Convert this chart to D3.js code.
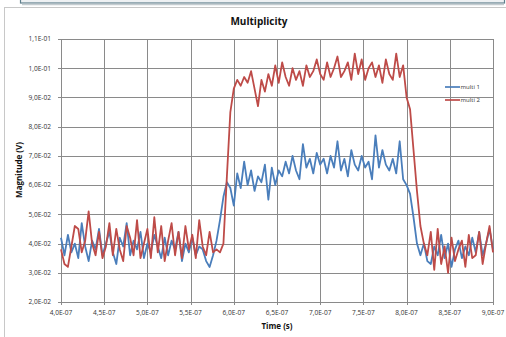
<!DOCTYPE html>
<html>
<head>
<meta charset="UTF-8" />
<script src="https://d3js.org/d3.v7.min.js"></script>
<style>
  body { margin: 0; padding: 0; background: #fff; }
  svg { display: block; font-family: "Open Sans", "Liberation Sans", sans-serif; }
  .tick-label { font-size: 6.6px; fill: #333; }
  .axis-title { font-size: 8px; font-weight: bold; fill: #111; }
</style>
</head>
<body>
<svg width="506" height="337"></svg>
<script>
// time in ns
const timeNs = [400,404,408,412,416,420,424,428,432,436,440,444,448,452,456,460,464,468,472,476,
  480,484,488,492,496,500,504,508,512,516,520,524,528,532,536,540,544,548,552,556,
  560,564,568,572,576,580,584,588,592,596,600,604,608,612,616,620,624,628,632,636,
  640,644,648,652,656,660,664,668,672,676,680,684,688,692,696,700,704,708,712,716,
  720,724,728,732,736,740,744,748,752,756,760,764,768,772,776,780,784,788,792,796,
  800,804,808,812,816,820,824,828,832,836,840,844,848,852,856,860,864,868,872,876,
  880,884,888,892,896,900];

const multi1 = [.042,.036,.043,.037,.040,.035,.047,.039,.034,.041,.038,.045,.036,.040,.044,.037,.033,.042,.039,.047,
  .036,.041,.038,.044,.035,.040,.037,.043,.039,.035,.042,.036,.041,.038,.044,.034,.040,.037,.042,.036,
  .039,.038,.034,.032,.036,.041,.048,.056,.061,.059,.053,.064,.059,.068,.060,.065,.058,.063,.061,.067,
  .055,.066,.060,.065,.063,.068,.064,.070,.065,.062,.074,.066,.069,.064,.071,.067,.069,.064,.070,.066,
  .075,.065,.069,.063,.072,.067,.065,.070,.066,.068,.062,.077,.066,.072,.067,.065,.069,.064,.075,.062,
  .060,.057,.049,.040,.036,.040,.034,.033,.039,.036,.043,.035,.040,.032,.038,.041,.035,.039,.036,.042,
  .037,.044,.036,.040,.045,.038];

const multi2 = [.038,.033,.032,.039,.046,.045,.037,.041,.051,.040,.036,.044,.035,.039,.047,.036,.045,.038,.034,.046,
  .042,.036,.048,.035,.040,.045,.035,.049,.037,.046,.034,.041,.047,.036,.044,.035,.046,.038,.043,.035,
  .048,.039,.036,.044,.037,.038,.037,.040,.063,.085,.093,.096,.094,.097,.095,.099,.093,.087,.096,.092,
  .098,.094,.101,.095,.102,.097,.094,.100,.096,.099,.094,.101,.097,.099,.103,.098,.096,.102,.097,.100,
  .104,.097,.099,.102,.096,.105,.098,.103,.096,.100,.102,.097,.101,.095,.103,.098,.096,.105,.097,.101,
  .090,.086,.072,.058,.046,.040,.036,.044,.031,.045,.033,.039,.030,.042,.034,.038,.041,.032,.043,.035,
  .036,.044,.033,.040,.046,.037];

const yTicks = [0.02,0.03,0.04,0.05,0.06,0.07,0.08,0.09,0.10,0.11];
const yTickLabels = ["2,0E-02","3,0E-02","4,0E-02","5,0E-02","6,0E-02","7,0E-02","8,0E-02","9,0E-02","1,0E-01","1,1E-01"];
const xTicks = [400,450,500,550,600,650,700,750,800,850,900];
const xTickLabels = ["4,0E-07","4,5E-07","5,0E-07","5,5E-07","6,0E-07","6,5E-07","7,0E-07","7,5E-07","8,0E-07","8,5E-07","9,0E-07"];
const seriesNames = ["multi 1","multi 2"];
const seriesColors = ["#4a7ebb","#be4b48"];

const svg = d3.select("svg");

// top strip (edge of previous box)
svg.append("rect")
  .attr("x", 20.5).attr("y", -6).attr("width", 484).attr("height", 9)
  .attr("fill", "#eef1f3").attr("stroke", "#5f7f8c").attr("stroke-width", 1.2);
svg.append("line")
  .attr("x1", 22).attr("x2", 504).attr("y1", 4.5).attr("y2", 4.5)
  .attr("stroke", "#c4ccd0").attr("stroke-width", 1.5);

// chart border
svg.append("rect")
  .attr("x", 4.5).attr("y", 7.5).attr("width", 520).attr("height", 340)
  .attr("fill", "#fff").attr("stroke", "#c8c8c8");

const plotL = 61, plotR = 493, plotT = 39, plotB = 302;

const x = d3.scaleLinear().domain([400, 900]).range([plotL, plotR]);
const y = d3.scaleLinear().domain([0.02, 0.11]).range([plotB, plotT]);

// grid
svg.append("g").selectAll("line")
  .data(yTicks).join("line")
  .attr("x1", plotL - 3).attr("x2", plotR)
  .attr("y1", d => Math.round(y(d)) + 0.5).attr("y2", d => Math.round(y(d)) + 0.5)
  .attr("stroke", "#8a8a8a").attr("stroke-width", 1);

svg.append("g").selectAll("line")
  .data(xTicks).join("line")
  .attr("y1", plotT).attr("y2", plotB + 3)
  .attr("x1", d => Math.round(x(d)) + 0.5).attr("x2", d => Math.round(x(d)) + 0.5)
  .attr("stroke", "#8a8a8a").attr("stroke-width", 1);

// tick labels
svg.append("g").selectAll("text")
  .data(yTicks).join("text")
  .attr("class", "tick-label")
  .attr("x", 51).attr("y", d => y(d) + 2.3)
  .attr("text-anchor", "end")
  .text((d, i) => yTickLabels[i]);

svg.append("g").selectAll("text")
  .data(xTicks).join("text")
  .attr("class", "tick-label")
  .attr("x", d => x(d)).attr("y", 315)
  .attr("text-anchor", "middle")
  .text((d, i) => xTickLabels[i]);

// titles
svg.append("text")
  .attr("x", 259).attr("y", 25)
  .attr("text-anchor", "middle")
  .attr("font-size", "10px").attr("font-weight", "bold").attr("fill", "#111")
  .text("Multiplicity");

svg.append("text")
  .attr("class", "axis-title")
  .attr("x", 277).attr("y", 329)
  .attr("text-anchor", "middle")
  .text("Time (s)");

svg.append("text")
  .attr("class", "axis-title")
  .attr("transform", "translate(22,170) rotate(-90)")
  .attr("text-anchor", "middle")
  .text("Magnitude (V)");

// lines
const series = [multi1, multi2];
const line = d3.line()
  .x((d, i) => x(timeNs[i]))
  .y(d => y(d));

series.forEach((s, k) => {
  svg.append("path")
    .datum(s)
    .attr("fill", "none")
    .attr("stroke", seriesColors[k])
    .attr("stroke-width", 1.8)
    .attr("stroke-linejoin", "round")
    .attr("d", line);
});

// legend
const legend = svg.append("g").attr("transform", "translate(445,87)");
seriesNames.forEach((name, k) => {
  legend.append("line")
    .attr("x1", 0).attr("x2", 15)
    .attr("y1", k * 13).attr("y2", k * 13)
    .attr("stroke", seriesColors[k]).attr("stroke-width", 1.7);
  legend.append("text")
    .attr("x", 15.5).attr("y", k * 13 + 2)
    .attr("font-size", "6px").attr("fill", "#333")
    .text(name);
});
</script>
</body>
</html>
